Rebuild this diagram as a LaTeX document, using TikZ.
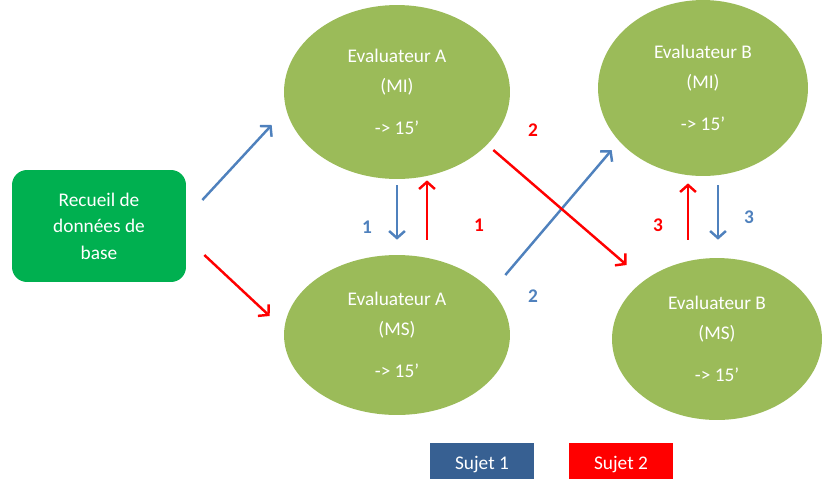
\documentclass[tikz,border=0pt]{standalone}
\usepackage{fontspec}
\setmainfont{Carlito}
\usetikzlibrary{shapes.geometric,arrows.meta}

\definecolor{vertbase}{HTML}{00B050}
\definecolor{vertolive}{HTML}{9BBB59}
\definecolor{bleusujet}{HTML}{4F81BD}
\definecolor{bleulegende}{HTML}{376092}
\definecolor{rougesujet}{HTML}{FF0000}

\begin{document}
\begin{tikzpicture}[x=0.02cm, y=-0.02cm,
    evaluateur/.style={ellipse, fill=vertolive, text=white, inner sep=0pt, align=center,
        font=\fontsize{11}{13}\selectfont},
    fleche/.style={line width=1.4pt, -{Straight Barb[length=4pt,width=9pt,line width=1.4pt]}},
    numero/.style={font=\bfseries\fontsize{11}{13}\selectfont},
    legende/.style={anchor=north, text=white, minimum width=2.1cm, minimum height=0.84cm,
        inner sep=0pt, font=\fontsize{11}{13}\selectfont}]

    \useasboundingbox (0,0) rectangle (822,478);

    % 1. Recueil de donnees
    \node[fill=vertbase, text=white, rounded corners=0.3cm, minimum width=3.48cm, minimum height=2.24cm,
        align=center, font=\fontsize{11}{15}\selectfont] (recueil) at (99,226)
        {Recueil de\\données de\\base};

    % 2. Evaluateurs A et B
    \node[evaluateur, minimum width=4.52cm, minimum height=3.48cm] (amI) at (397,92)
        {Evaluateur A\\[4pt](MI)\\[11pt]-> 15’};
    \node[evaluateur, minimum width=4.52cm, minimum height=3.2cm] (amS) at (397,335)
        {Evaluateur A\\[4pt](MS)\\[11pt]-> 15’};
    \node[evaluateur, minimum width=4.2cm, minimum height=3.52cm] (bmI) at (703,88)
        {Evaluateur B\\[4pt](MI)\\[11pt]-> 15’};
    \node[evaluateur, minimum width=4.2cm, minimum height=3.24cm] (bmS) at (717,339)
        {Evaluateur B\\[4pt](MS)\\[11pt]-> 15’};

    % 3. Fleches sujet 1 (bleu)
    \draw[fleche, bleusujet] ([shift={(16,-26)}]recueil.east) -- ([shift={(-12,33)}]amI.west);
    \draw[fleche, bleusujet] ([shift={(0,6)}]amI.south) -- ([shift={(0,-15)}]amS.north);
    \draw[fleche, bleusujet] ([shift={(-5,-60)}]amS.east) -- ([shift={(14,62)}]bmI.west);
    \draw[fleche, bleusujet] ([shift={(15,9)}]bmI.south) -- ([shift={(1,-18)}]bmS.north);

    % 4. Fleches sujet 2 (rouge)
    \draw[fleche, rougesujet] ([shift={(18,29)}]recueil.east) -- ([shift={(-14,-19)}]amS.west);
    \draw[fleche, rougesujet] ([shift={(30,-15)}]amS.north) -- ([shift={(30,1)}]amI.south);
    \draw[fleche, rougesujet] ([shift={(-17,58)}]amI.east) -- ([shift={(15,-74)}]bmS.west);
    \draw[fleche, rougesujet] ([shift={(-29,-18)}]bmS.north) -- ([shift={(-15,7)}]bmI.south);

    % 5. Numeros des etapes
    \node[numero, text=bleusujet] (n1b) at (367,227) {1};
    \node[numero, text=rougesujet] (n1r) at (479,225) {1};
    \node[numero, text=rougesujet] (n2r) at (533,130) {2};
    \node[numero, text=bleusujet] (n2b) at (533,296) {2};
    \node[numero, text=rougesujet] (n3r) at (658,225) {3};
    \node[numero, text=bleusujet] (n3b) at (749,217) {3};

    % 6. Legende
    \node[legende, fill=bleulegende] (sujet1) at (482,443) {Sujet 1};
    \node[legende, fill=rougesujet] (sujet2) at (621,443) {Sujet 2};

\end{tikzpicture}
\end{document}
